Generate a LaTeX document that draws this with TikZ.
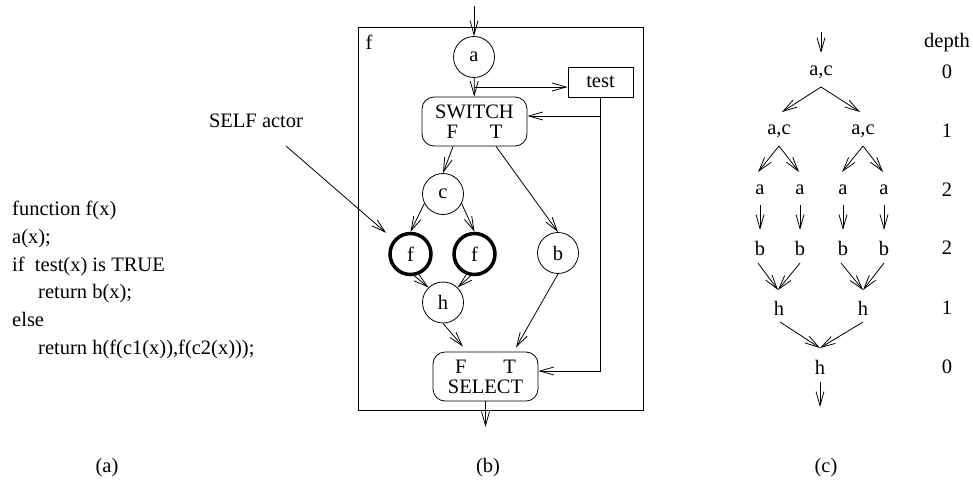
\documentclass[tikz,border=0pt]{standalone}
\usepackage{fontspec}
\setmainfont{Liberation Serif}
\usetikzlibrary{arrows.meta}
\newcommand\myfs{\fontsize{20.5}{20}\selectfont}
\begin{document}
\begin{tikzpicture}[x=1pt,y=-1pt,
  every node/.style={font=\myfs},
  ln/.style={line width=0.8pt},
  arr/.style={ln,-{Straight Barb[length=14pt,width=8pt]}},
  circ/.style={draw,circle,minimum size=41pt,inner sep=0pt,ln},
  selfc/.style={circ,line width=3.5pt},
  rbox/.style={draw,rounded corners=12pt,minimum width=105pt,minimum height=49pt,inner sep=0pt,align=center,ln},
  sqbox/.style={draw,ln,inner sep=0pt},
  code/.style={anchor=base west,inner sep=0pt},
  txt/.style={inner sep=0pt}]
\useasboundingbox (0,0) rectangle (973,488);

% (a) code
\node[code] (l1) at (12,215) {function f(x)};
\node[code] (l2) at (12,243) {a(x);};
\node[code] (l3) at (12,271) {if\ \ test(x) is TRUE};
\node[code] (l4) at (38,298) {return b(x);};
\node[code] (l5) at (12,326) {else};
\node[code] (l6) at (38,354) {return h(f(c1(x)),f(c2(x)));};
\node[txt] (capa) at (107,468) {(a)};
\node[txt] (capb) at (488,468) {(b)};
\node[txt] (capc) at (826,468) {(c)};

% (b) graph
\node[sqbox,minimum width=285pt,minimum height=383pt] (fbox) at (500.5,218.5) {};
\node[txt] (flbl) at (369,42) {f};
\node[circ] (a) at (474,57) {a};
\node[rbox] (sw) at (474.5,121.5) {SWITCH\\F\hspace{32pt}T};
\node[sqbox,minimum width=65pt,minimum height=30pt] (test) at (600.5,82) {test};
\node[circ] (c) at (443,194) {c};
\node[circ] (b) at (558,253) {b};
\node[selfc] (f1) at (410.5,254) {f};
\node[selfc] (f2) at (474.5,254) {f};
\node[circ] (h) at (443,302.5) {h};
\node[rbox] (sel) at (485.5,376.5) {F\hspace{37pt}T\\SELECT};

\node[txt] (selflbl) at (256,121) {SELF actor};
\coordinate (selfs) at (286,146);
\draw[arr,shorten >=10pt] (selfs) -- (f1);

\coordinate (ain) at (474,6);
\draw[arr] (ain) -- (a);
\draw[arr] (a) -- (sw);
\coordinate (br) at (474,87);
\draw[arr] (br) -- (br -| test.west);
\coordinate (fb1) at (600.5,116);
\coordinate (fb2) at (600.5,371);
\draw[ln] (test.south) -- (fb2);
\draw[arr] (fb1) -- (fb1 -| sw.east);
\draw[arr] (fb2) -- (fb2 -| sel.east);
\draw[arr] ([xshift=-21.5pt]sw.south) -- (c.north);
\draw[arr] ([xshift=21.5pt]sw.south) -- (b.north);
\draw[arr] (c.207) -- (f1.north);
\draw[arr] (c.-27) -- (f2.north);
\draw[arr] (f1.-80) -- (h.134);
\draw[arr] (f2.-100) -- (h.46);
\draw[arr] (b.south) -- ([xshift=30.5pt,yshift=4pt]sel.north);
\draw[arr] (h.south) -- ([xshift=-22.5pt,yshift=5pt]sel.north);
\coordinate (bout) at (485.5,427);
\draw[arr] (sel.south) -- (bout);

% (c) tree
\node[txt] (dep) at (947,43) {depth};
\node[txt] (d0) at (947,72) {0};
\node[txt] (d1) at (947,131) {1};
\node[txt] (d2) at (947,190) {2};
\node[txt] (d3) at (947,248) {2};
\node[txt] (d4) at (947,308) {1};
\node[txt] (d5) at (947,367) {0};

\node[txt] (ac0) at (821,72) {a,c};
\node[txt] (ac1a) at (779,131) {a,c};
\node[txt] (ac1b) at (863,131) {a,c};
\node[txt] (a1) at (760,190) {a};
\node[txt] (a2) at (800,190) {a};
\node[txt] (a3) at (843,190) {a};
\node[txt] (a4) at (884,190) {a};
\node[txt] (b1) at (760,248) {b};
\node[txt] (b2) at (800,248) {b};
\node[txt] (b3) at (843,248) {b};
\node[txt] (b4) at (884,248) {b};
\node[txt] (h1) at (779,308) {h};
\node[txt] (h2) at (863,308) {h};
\node[txt] (h0) at (820,367) {h};

\coordinate (ctop) at (821,32);
\draw[arr] (ctop) -- ([yshift=19pt]ac0.center);
\draw[arr] ([yshift=-15pt]ac0.center) -- ([xshift=3pt,yshift=19pt]ac1a.center);
\draw[arr] ([yshift=-15pt]ac0.center) -- ([xshift=-3pt,yshift=19pt]ac1b.center);
\draw[arr] ([yshift=-15pt]ac1a.center) -- ([xshift=-2pt,yshift=18pt]a1.center);
\draw[arr] ([yshift=-15pt]ac1a.center) -- ([xshift=-1pt,yshift=18pt]a2.center);
\draw[arr] ([yshift=-15pt]ac1b.center) -- ([xshift=-1pt,yshift=18pt]a3.center);
\draw[arr] ([yshift=-15pt]ac1b.center) -- ([xshift=-1pt,yshift=18pt]a4.center);
\foreach \i in {1,2,3,4}
  \draw[arr] ([yshift=-15pt]a\i.center) -- ([yshift=18pt]b\i.center);
\draw[arr] ([xshift=-2pt,yshift=-15pt]b1.center) -- ([xshift=-1pt,yshift=18pt]h1.center);
\draw[arr] ([yshift=-15pt]b2.center) -- ([xshift=-1pt,yshift=18pt]h1.center);
\draw[arr] ([xshift=-2pt,yshift=-15pt]b3.center) -- ([yshift=18pt]h2.center);
\draw[arr] ([yshift=-15pt]b4.center) -- ([yshift=18pt]h2.center);
\draw[arr] ([xshift=1pt,yshift=-14pt]h1.center) -- ([yshift=19pt]h0.center);
\draw[arr] ([yshift=-14pt]h2.center) -- ([yshift=19pt]h0.center);
\coordinate (cout) at (820,407);
\draw[arr] ([yshift=-15pt]h0.center) -- (cout);
\end{tikzpicture}
\end{document}
